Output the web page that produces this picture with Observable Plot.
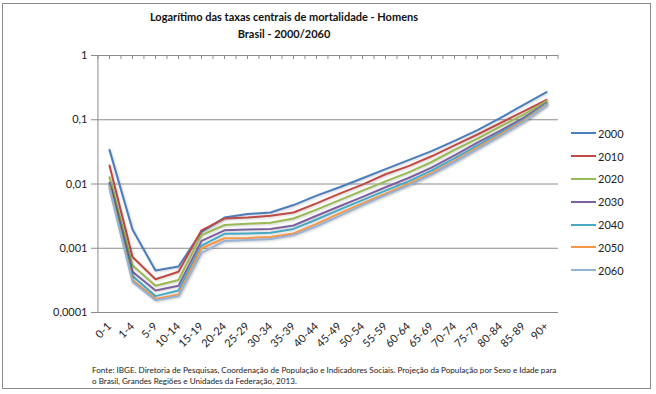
<!DOCTYPE html>
<html>
<head>
<meta charset="utf-8">
<script src="https://cdn.jsdelivr.net/npm/d3@7"></script>
<script src="https://cdn.jsdelivr.net/npm/@observablehq/plot@0.6"></script>
<style>
  html, body { margin: 0; padding: 0; background: #fff; }
  #wrap { position: relative; width: 656px; height: 394px; font-family: Lato, "Open Sans", sans-serif; }
  #border { position: absolute; left: 2px; top: 3px; width: 649px; height: 386px; border: 1px solid #8a8a8a; box-sizing: border-box; }
  #title { position: absolute; left: 0; width: 568px; top: 8px; text-align: center; font-weight: bold; font-size: 11px; line-height: 17px; color: #111; }
  #caption { position: absolute; left: 92px; top: 365px; font-size: 8.1px; line-height: 11px; color: #222; white-space: nowrap; }
  #legend { position: absolute; left: 571px; top: 122px; font-size: 11px; color: #222; }
  #legend .item { height: 22.8px; display: flex; align-items: center; }
  #legend svg { margin-right: 2px; }
  #chart { position: absolute; left: 0; top: 0; }
  #chart svg text { fill: #222; }
  #chart svg g[aria-label="line"] path { filter: drop-shadow(1px 1px 1px rgba(0,0,0,0.18)); }
</style>
</head>
<body>
<div id="wrap">
  <div id="chart"></div>
  <div id="border"></div>
  <div id="title">Logarítimo das taxas centrais de mortalidade - Homens<br>Brasil - 2000/2060</div>
  <div id="legend"></div>
  <div id="caption">Fonte: IBGE. Diretoria de Pesquisas, Coordenação de População e Indicadores Sociais. Projeção da População por Sexo e Idade para<br>o Brasil, Grandes Regiões e Unidades da Federação, 2013.</div>
</div>
<script>
const categories = ["0-1","1-4","5-9","10-14","15-19","20-24","25-29","30-34","35-39","40-44","45-49","50-54","55-59","60-64","65-69","70-74","75-79","80-84","85-89","90+"];
const years = ["2000","2010","2020","2030","2040","2050","2060"];
const colors = ["#4A7EBB","#BE4B48","#98B954","#7D60A0","#46AAC5","#F79646","#95B3D7"];
const yTicks = [1, 0.1, 0.01, 0.001, 0.0001];

const s2000 = [0.034,0.00195,0.00045,0.00052,0.0018,0.0030,0.0034,0.0036,0.0047,0.0066,0.0089,0.0123,0.0170,0.0235,0.0325,0.047,0.069,0.107,0.17,0.27];
const s2010 = [0.0194,0.00073,0.00033,0.00043,0.0019,0.0029,0.0030,0.0032,0.0036,0.0050,0.0071,0.0098,0.0142,0.0190,0.0270,0.040,0.059,0.089,0.135,0.204];
const s2020 = [0.0128,0.00054,0.00026,0.00032,0.0016,0.0023,0.0024,0.0025,0.0029,0.0040,0.0056,0.0079,0.0110,0.0152,0.022,0.034,0.051,0.079,0.12,0.195];
const s2030 = [0.0105,0.00043,0.00022,0.00026,0.0013,0.0019,0.00196,0.0020,0.00226,0.0032,0.0045,0.0063,0.0089,0.0124,0.018,0.028,0.044,0.068,0.107,0.183];
const s2040 = [0.0095,0.00037,0.00018,0.00022,0.0011,0.00168,0.0017,0.00174,0.0020,0.0028,0.0040,0.0056,0.0079,0.011,0.0162,0.025,0.040,0.063,0.10,0.178];
const s2050 = [0.009,0.00032,0.000163,0.00019,0.0010,0.00143,0.00145,0.0015,0.0017,0.0024,0.0035,0.0050,0.0071,0.0100,0.0148,0.023,0.037,0.059,0.096,0.173];
const s2060 = [0.0085,0.00030,0.000155,0.00018,0.00085,0.0013,0.00134,0.00139,0.0016,0.0022,0.0032,0.0047,0.0067,0.0095,0.014,0.022,0.035,0.056,0.092,0.168];
const series = [s2000,s2010,s2020,s2030,s2040,s2050,s2060];

const data = [];
years.forEach((yr, i) => series[i].forEach((v, j) => data.push({year: yr, age: categories[j], value: v})));

const W = 656, H = 394, mL = 96, mR = 98, mT = 55, mB = 82;
const step = (W - mL - mR) / categories.length;
const plotH = H - mT - mB;
const grid = "#8c8c8c";

const chart = Plot.plot({
  width: W, height: H,
  marginLeft: mL, marginRight: mR, marginTop: mT, marginBottom: mB,
  style: {fontFamily: "Lato, 'Open Sans', sans-serif", background: "transparent"},
  x: {type: "point", domain: categories, padding: 0.5, label: null},
  y: {type: "log", domain: [0.0001, 1], label: null},
  color: {domain: years, range: colors},
  marks: [
    Plot.ruleY(yTicks, {stroke: grid, strokeWidth: 1}),
    Plot.ruleX([categories[0]], {dx: -step / 2, stroke: grid}),
    Plot.ruleX(categories, {stroke: grid, insetBottom: plotH - 4}),
    Plot.ruleX(categories, {stroke: grid, insetBottom: plotH - 4, dx: -step / 2}),
    Plot.ruleX([categories[categories.length - 1]], {stroke: grid, insetBottom: plotH - 4, dx: step / 2}),
    Plot.axisY({ticks: yTicks, tickFormat: d => String(d).replace(".", ","), tickSize: 5, tickPadding: 4, fontSize: 11, stroke: grid, label: null}),
    Plot.axisX({tickSize: 0, tickRotate: -45, tickPadding: 12, fontSize: 11, label: null}),
    Plot.line(data, {x: "age", y: "value", z: "year", stroke: "year", strokeWidth: 2, strokeLinejoin: "round"})
  ]
});
document.getElementById("chart").appendChild(chart);

const legend = document.getElementById("legend");
years.forEach((yr, i) => {
  const item = document.createElement("div");
  item.className = "item";
  item.innerHTML = `<svg width="25" height="4"><line x1="0" x2="25" y1="2" y2="2" stroke="${colors[i]}" stroke-width="2"/></svg><span>${yr}</span>`;
  legend.appendChild(item);
});
</script>
</body>
</html>
